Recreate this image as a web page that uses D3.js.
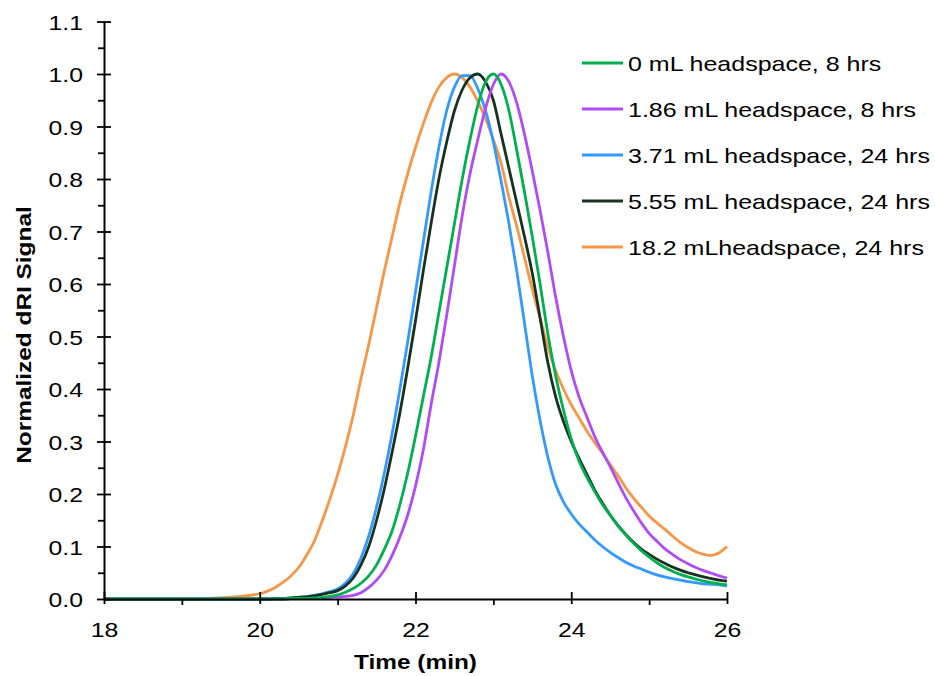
<!DOCTYPE html>
<head>
  <meta charset="utf-8">
  <script src="https://d3js.org/d3.v7.min.js"></script>
  <style>
    body {
        margin: 0;
        background: #fff;
        font-family: Arial, "Liberation Sans", sans-serif;
    }
    svg text { fill: #000; }
  </style>
</head>
<body>
  <div id="chart"></div>
  <script>

  // time grid (min)
  var time = [18, 18.5, 19, 19.5,
    20.0, 20.1, 20.2, 20.3, 20.4, 20.5, 20.6, 20.7, 20.8, 20.9,
    21.0, 21.1, 21.2, 21.3, 21.4, 21.5, 21.6, 21.7, 21.8, 21.9,
    22.0, 22.1, 22.2, 22.3, 22.4, 22.5, 22.6, 22.7, 22.8, 22.9,
    23.0, 23.1, 23.2, 23.3, 23.4, 23.5, 23.6, 23.7, 23.8, 23.9,
    24.0, 24.1, 24.2, 24.3, 24.4, 24.5, 24.6, 24.7, 24.8, 24.9,
    25.0, 25.1, 25.2, 25.3, 25.4, 25.5, 25.6, 25.7, 25.8, 25.9,
    26.0]

  var green = [0, 0, 0, 0,
    0.000, 0.000, 0.000, 0.000, 0.001, 0.001, 0.001, 0.002, 0.003, 0.005,
    0.008, 0.013, 0.020, 0.030, 0.044, 0.065, 0.095, 0.130, 0.180, 0.240,
    0.310, 0.385, 0.460, 0.545, 0.630, 0.715, 0.800, 0.875, 0.940, 0.985,
    1.000, 0.980, 0.930, 0.855, 0.775, 0.690, 0.600, 0.505, 0.425, 0.360,
    0.305, 0.263, 0.232, 0.205, 0.180, 0.160, 0.140, 0.122, 0.106, 0.092,
    0.080, 0.069, 0.060, 0.053, 0.047, 0.042, 0.038, 0.034, 0.031, 0.029,
    0.027]

  var purple = [0, 0, 0, 0,
    0.000, 0.000, 0.000, 0.000, 0.001, 0.001, 0.001, 0.001, 0.002, 0.003,
    0.004, 0.005, 0.007, 0.012, 0.022, 0.036, 0.055, 0.083, 0.118, 0.160,
    0.215, 0.284, 0.370, 0.450, 0.540, 0.635, 0.730, 0.810, 0.875, 0.935,
    0.980, 1.000, 0.985, 0.945, 0.885, 0.815, 0.740, 0.660, 0.575, 0.500,
    0.435, 0.385, 0.347, 0.310, 0.280, 0.252, 0.222, 0.193, 0.168, 0.145,
    0.125, 0.110, 0.096, 0.085, 0.075, 0.067, 0.060, 0.054, 0.049, 0.044,
    0.040]

  var blue = [0, 0, 0, 0,
    0.000, 0.000, 0.001, 0.001, 0.002, 0.003, 0.005, 0.007, 0.010, 0.014,
    0.019, 0.030, 0.048, 0.078, 0.120, 0.175, 0.240, 0.315, 0.400, 0.490,
    0.585, 0.680, 0.775, 0.860, 0.930, 0.975, 0.997, 0.997, 0.972, 0.930,
    0.870, 0.795, 0.715, 0.625, 0.525, 0.425, 0.340, 0.270, 0.218, 0.185,
    0.162, 0.143, 0.128, 0.113, 0.100, 0.089, 0.079, 0.070, 0.063, 0.057,
    0.051, 0.046, 0.042, 0.039, 0.036, 0.033, 0.031, 0.029, 0.028, 0.027,
    0.025]

  var dark = [0, 0, 0, 0,
    0.000, 0.000, 0.001, 0.001, 0.002, 0.003, 0.004, 0.006, 0.009, 0.012,
    0.016, 0.025, 0.040, 0.065, 0.100, 0.150, 0.210, 0.280, 0.355, 0.440,
    0.530, 0.625, 0.715, 0.800, 0.870, 0.930, 0.970, 0.993, 1.000, 0.985,
    0.950, 0.885, 0.820, 0.755, 0.690, 0.620, 0.535, 0.450, 0.385, 0.338,
    0.300, 0.268, 0.238, 0.208, 0.183, 0.160, 0.140, 0.123, 0.108, 0.095,
    0.085, 0.076, 0.068, 0.061, 0.055, 0.050, 0.046, 0.042, 0.039, 0.036,
    0.034]

  var orange = [0, 0, 0, 0.002,
    0.010, 0.015, 0.022, 0.032, 0.044, 0.060, 0.083, 0.110, 0.148, 0.190,
    0.237, 0.290, 0.350, 0.420, 0.485, 0.555, 0.625, 0.690, 0.755, 0.810,
    0.860, 0.905, 0.945, 0.975, 0.993, 1.000, 0.993, 0.975, 0.948, 0.915,
    0.875, 0.830, 0.765, 0.710, 0.650, 0.590, 0.535, 0.480, 0.435, 0.400,
    0.370, 0.345, 0.320, 0.298, 0.278, 0.256, 0.235, 0.212, 0.192, 0.175,
    0.158, 0.145, 0.133, 0.120, 0.108, 0.098, 0.090, 0.085, 0.083, 0.088,
    0.100]

  var seriesNames = ["0 mL headspace, 8 hrs", "1.86 mL headspace, 8 hrs",
    "3.71 mL headspace, 24 hrs", "5.55 mL headspace, 24 hrs", "18.2 mLheadspace, 24 hrs"]
  var seriesValues = [green, purple, blue, dark, orange]
  var seriesColors = ["#00B050", "#B04CF7", "#3399FF", "#17331F", "#F79646"]

  var xTicks = [18, 20, 22, 24, 26]
  var yTicks = [0, 0.1, 0.2, 0.3, 0.4, 0.5, 0.6, 0.7, 0.8, 0.9, 1.0, 1.1]

  var W = 935, H = 676
  var margin = {top: 21.5, right: 208, bottom: 77, left: 104}
  var width = W - margin.left - margin.right
    , height = H - margin.top - margin.bottom

  var svg = d3.select("#chart").append("svg")
      .attr("width", W)
      .attr("height", H)

  var g = svg.append("g")
      .attr("transform", "translate(" + margin.left + "," + margin.top + ")")

  var x = d3.scaleLinear().domain([18, 26]).range([0, width])
  var y = d3.scaleLinear().domain([0, 1.1]).range([height, 0])

  var line = d3.line()
      .x(function(d) { return x(d[0]) })
      .y(function(d) { return y(d[1]) })
      .curve(d3.curveMonotoneX)

  // draw order: orange at back
  var order = [4, 2, 3, 1, 0]
  order.forEach(function(k) {
    g.append("path")
      .datum(time.map(function(t, i) { return [t, seriesValues[k][i]] }))
      .attr("fill", "none")
      .attr("stroke", seriesColors[k])
      .attr("stroke-width", 2.8)
      .attr("stroke-linejoin", "round")
      .attr("d", line)
  })

  // y axis: minor ticks outside
  var yMinor = [0.05, 0.15, 0.25, 0.35, 0.45, 0.55, 0.65, 0.75, 0.85, 0.95, 1.05]
  g.append("g")
      .call(d3.axisLeft(y).tickValues(yMinor).tickSize(6).tickFormat(""))
      .call(function(s) { s.select(".domain").remove() })
      .selectAll("line").attr("stroke", "#000").attr("stroke-width", 1.8)

  var yAxis = g.append("g")
      .call(d3.axisLeft(y).tickValues(yTicks).tickSize(7).tickSizeOuter(0)
        .tickFormat(d3.format(".1f")))
  yAxis.select(".domain").attr("stroke", "#000").attr("stroke-width", 2)
  yAxis.selectAll(".tick line").attr("stroke", "#000").attr("stroke-width", 1.8)
      .attr("x2", 7).attr("x1", -7)
  yAxis.selectAll(".tick text")
      .attr("x", 0)
      .attr("dy", "0.36em")
      .attr("transform", "translate(-21,0) scale(1.18,1)")
      .style("font-size", "21px")
      .style("font-family", "Arial, 'Liberation Sans', sans-serif")

  // x axis
  var xMinor = [19, 21, 23, 25]
  g.append("g")
      .attr("transform", "translate(0," + height + ")")
      .call(d3.axisBottom(x).tickValues(xMinor).tickSize(6).tickFormat(""))
      .call(function(s) { s.select(".domain").remove() })
      .selectAll("line").attr("stroke", "#000").attr("stroke-width", 1.8)

  var xAxis = g.append("g")
      .attr("transform", "translate(0," + height + ")")
      .call(d3.axisBottom(x).tickValues(xTicks).tickSize(6).tickSizeOuter(0)
        .tickFormat(d3.format("d")))
  xAxis.select(".domain").attr("stroke", "#000").attr("stroke-width", 2)
  xAxis.selectAll(".tick line").attr("stroke", "#000").attr("stroke-width", 1.8)
      .attr("y1", -7).attr("y2", 5)
  xAxis.selectAll(".tick text")
      .attr("y", 0)
      .attr("dy", 0)
      .attr("transform", "translate(0,38) scale(1.18,1)")
      .style("font-size", "21px")
      .style("font-family", "Arial, 'Liberation Sans', sans-serif")

  // axis titles
  svg.append("text")
      .attr("transform", "translate(" + (margin.left + width / 2) + ",669) scale(1.22,1)")
      .attr("text-anchor", "middle")
      .style("font-size", "20px")
      .style("font-weight", "bold")
      .text("Time (min)")

  svg.append("text")
      .attr("transform", "translate(31,335) rotate(-90) scale(1.22,1)")
      .attr("text-anchor", "middle")
      .style("font-size", "20px")
      .style("font-weight", "bold")
      .text("Normalized dRI Signal")

  // legend
  var legend = svg.append("g")
      .attr("transform", "translate(582,63)")

  var items = legend.selectAll(".item")
      .data(seriesNames)
    .enter().append("g")
      .attr("class", "item")
      .attr("transform", function(d, i) { return "translate(0," + i * 46 + ")" })

  items.append("line")
      .attr("x1", 0).attr("x2", 41)
      .attr("stroke", function(d, i) { return seriesColors[i] })
      .attr("stroke-width", 2.8)

  items.append("text")
      .attr("transform", "translate(46,8) scale(1.19,1)")
      .style("font-size", "21px")
      .text(function(d) { return d })

  </script>
</body>
